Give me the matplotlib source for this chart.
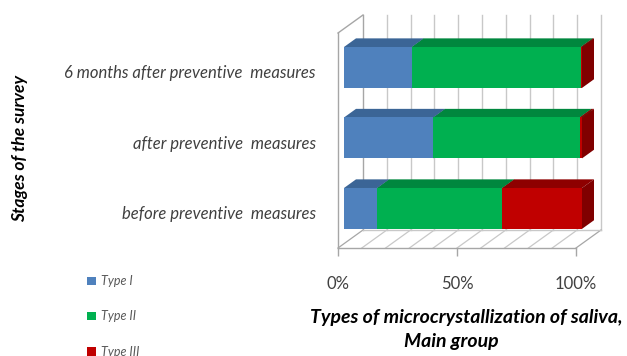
import matplotlib
matplotlib.use("Agg")
import matplotlib.pyplot as plt
from matplotlib.patches import Polygon, Patch

# ---- data -------------------------------------------------------------
stages = ["before preventive  measures",
          "after preventive  measures",
          "6 months after preventive  measures"]
type_names = ["Type I", "Type II", "Type III"]
type1 = [14.0, 37.5, 28.5]
type2 = [52.5, 61.5, 71.0]
type3 = [33.5, 1.0, 0.5]
tick_values = [0, 50, 100]
tick_labels = ["0%", "50%", "100%"]
y_title = "Stages of the survey"
x_title_1 = "Types of microcrystallization of saliva,"
x_title_2 = "Main group"

# ---- style ------------------------------------------------------------
front_cols = ["#4F81BD", "#00B050", "#C00000"]
top_cols = ["#3B6596", "#00873E", "#8E0000"]
side_cols = ["#355A88", "#007A37", "#800000"]
grid_col = "#C8C8C8"
wall_col = "#A6A6A6"
FONT = "Lato"

W, H, DPI = 627, 356, 100
fig = plt.figure(figsize=(W / DPI, H / DPI), dpi=DPI)
fig.patch.set_facecolor("white")

# front plane of the 3-D box, in pixels
px_left, px_right, px_bottom, px_top = 338, 576, 248, 33
ax = fig.add_axes([px_left / W, (H - px_bottom) / H,
                   (px_right - px_left) / W, (px_bottom - px_top) / H])
ax.set_xlim(0, 100)
ax.set_ylim(-0.5, 2.55)
ax.set_facecolor("none")

# depth of the box converted to data units
depth_px_x, depth_px_y = 25, 18
DX = depth_px_x * 100 / (px_right - px_left)
DY = depth_px_y * 3.05 / (px_bottom - px_top)
F0, F1 = 0.24, 0.72      # bar front / back depth fraction
BH = 0.58                # bar height (category units)
y0, y1 = -0.5, 2.55

# back wall gridlines
for k in range(0, 101, 10):
    ax.plot([k + DX, k + DX], [y0 + DY, y1 + DY], color=grid_col if k else wall_col,
            lw=1.0, zorder=1, clip_on=False)
# floor: diagonals + back edge
for k in range(0, 101, 10):
    ax.plot([k, k + DX], [y0, y0 + DY], color=grid_col if 0 < k < 100 else wall_col,
            lw=0.9, zorder=1, clip_on=False)
ax.plot([DX, 100 + DX], [y0 + DY, y0 + DY], color=grid_col, lw=1.0, zorder=1, clip_on=False)
# left wall edges
ax.plot([0, 0], [y0, y1], color=wall_col, lw=1.0, zorder=1, clip_on=False)
ax.plot([0, DX], [y1, y1 + DY], color=wall_col, lw=1.0, zorder=1, clip_on=False)

# bars as 3-D boxes
series = [type1, type2, type3]
for i in range(len(stages)):
    left = 0.0
    yc = i + F0 * DY
    yb, yt = yc - BH / 2, yc + BH / 2
    ddx, ddy = (F1 - F0) * DX, (F1 - F0) * DY
    for s, vals in enumerate(series):
        w = vals[i]
        x0, x1 = left + F0 * DX, left + w + F0 * DX
        ax.add_patch(Polygon([(x0, yt), (x1, yt), (x1 + ddx, yt + ddy), (x0 + ddx, yt + ddy)],
                             closed=True, facecolor=top_cols[s], edgecolor="none",
                             zorder=3, clip_on=False))
        ax.add_patch(Polygon([(x1, yb), (x1, yt), (x1 + ddx, yt + ddy), (x1 + ddx, yb + ddy)],
                             closed=True, facecolor=side_cols[s], edgecolor="none",
                             zorder=3, clip_on=False))
        ax.barh(yc, w, left=x0, height=BH, color=front_cols[s], zorder=4,
                clip_on=False, linewidth=0)
        left += w

# axes decoration
for sp in ["top", "right", "left"]:
    ax.spines[sp].set_visible(False)
ax.spines["bottom"].set_color(wall_col)
ax.spines["bottom"].set_linewidth(1.0)
ax.set_xticks(tick_values)
ax.set_xticklabels(tick_labels, fontfamily=FONT, fontsize=12, color="#404040")
ax.tick_params(axis="x", direction="out", length=6, width=1, color=wall_col, pad=14)
ax.set_yticks(range(len(stages)))
ax.set_yticklabels(stages, fontfamily=FONT, fontstyle="italic", fontsize=12,
                   color="#404040")
ax.tick_params(axis="y", length=0, pad=16)

fig.text(20 / W, 1 - 149 / H, y_title, rotation=90, ha="center", va="center",
         fontfamily=FONT, fontstyle="italic", fontweight="bold", fontsize=12.5)
fig.text(466 / W, 1 - 318 / H, x_title_1, ha="center", va="center",
         fontfamily=FONT, fontstyle="italic", fontweight="bold", fontsize=14)
fig.text(451 / W, 1 - 342 / H, x_title_2, ha="center", va="center",
         fontfamily=FONT, fontstyle="italic", fontweight="bold", fontsize=14)

handles = [Patch(facecolor=c, edgecolor="none") for c in front_cols]
fig.legend(handles, type_names, loc="upper left", bbox_to_anchor=(76 / W, 1 - 264 / H),
           frameon=False, handlelength=0.7, handleheight=0.7, handletextpad=0.4,
           labelspacing=1.85, prop={"family": FONT, "style": "italic", "size": 9},
           labelcolor="#595959")

fig.savefig("out.png", dpi=DPI)
